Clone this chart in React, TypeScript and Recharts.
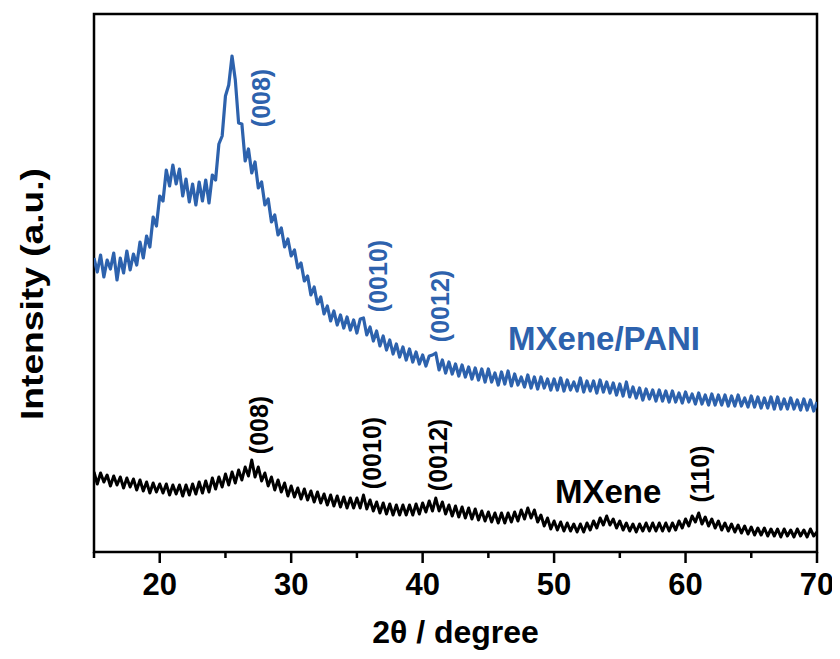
import { LineChart, Line, XAxis, YAxis, ReferenceArea, ReferenceDot, Label } from 'recharts'

// 2θ sampling: 15° to 70° in 0.25° steps (221 points)
const START_ANGLE = 15
const STEP = 0.25

// MXene/PANI intensity (a.u.), 4 points per degree
const paniIntensity = [
  290, 276, 293, 271, 288, 279, 295, 268, 290, 275, 297, 278, 294, 283, 306, 290,
  312, 301, 331, 322, 352, 347, 378, 362, 383, 364, 379, 352, 369, 346, 364, 343,
  366, 347, 368, 345, 373, 368, 404, 412, 452, 463, 492, 468, 425, 424, 387, 399,
  375, 386, 360, 366, 343, 349, 326, 333, 313, 320, 301, 309, 292, 298, 280, 285,
  267, 272, 253, 261, 244, 251, 234, 242, 227, 237, 223, 233, 220, 231, 218, 228,
  215, 229, 230, 213, 221, 207, 217, 202, 212, 198, 208, 194, 204, 191, 201, 188,
  199, 186, 196, 184, 193, 182, 192, 193, 195, 178, 188, 175, 186, 174, 184, 172,
  183, 171, 181, 169, 180, 168, 179, 166, 179, 166, 175, 163, 176, 164, 177, 162,
  174, 163, 171, 161, 173, 160, 171, 159, 171, 160, 169, 158, 169, 158, 170, 157,
  168, 158, 166, 157, 170, 156, 167, 157, 167, 155, 168, 156, 166, 155, 165, 153,
  164, 152, 166, 151, 161, 150, 160, 148, 159, 149, 158, 147, 158, 147, 157, 146,
  157, 146, 155, 145, 156, 146, 154, 144, 155, 144, 153, 143, 154, 143, 153, 143,
  153, 142, 152, 142, 153, 142, 150, 141, 152, 141, 151, 140, 150, 140, 151, 139,
  151, 139, 149, 139, 150, 139, 148, 138, 149, 138, 148, 137, 146,
]

// MXene intensity (a.u.)
const mxeneIntensity = [
  76, 64, 75, 66, 73, 62, 72, 63, 71, 60, 70, 61, 69, 58, 68, 57,
  66, 55, 65, 56, 64, 55, 64, 53, 63, 54, 63, 52, 63, 53, 64, 54,
  66, 55, 67, 56, 70, 59, 71, 61, 74, 63, 76, 65, 78, 68, 81, 72,
  88, 71, 81, 67, 75, 62, 71, 58, 68, 56, 65, 52, 62, 51, 60, 49,
  59, 48, 57, 46, 56, 45, 54, 43, 53, 42, 52, 41, 51, 40, 50, 40,
  50, 40, 53, 39, 48, 37, 46, 35, 45, 34, 44, 33, 43, 33, 43, 33,
  43, 33, 44, 34, 45, 36, 47, 37, 50, 37, 46, 34, 43, 32, 42, 31,
  41, 30, 40, 29, 39, 28, 37, 27, 36, 26, 35, 25, 35, 25, 35, 26,
  36, 27, 38, 29, 40, 30, 38, 26, 33, 22, 30, 19, 27, 18, 26, 17,
  25, 17, 24, 16, 24, 16, 25, 18, 27, 20, 30, 23, 32, 23, 29, 20,
  27, 18, 25, 17, 24, 16, 24, 17, 25, 17, 25, 17, 25, 17, 25, 17,
  25, 18, 27, 20, 29, 22, 32, 26, 35, 24, 31, 22, 29, 20, 27, 18,
  25, 17, 24, 16, 23, 15, 22, 14, 21, 13, 20, 13, 20, 12, 19, 12,
  19, 11, 19, 12, 18, 11, 19, 12, 18, 11, 19, 12, 16,
]

const xTicks = [15, 20, 25, 30, 35, 40, 45, 50, 55, 60, 65, 70]

// reflection labels: [2θ, intensity, text]
const paniPeaks: [number, number, string][] = [
  [27.7, 450, '(008)'],
  [36.6, 272, '(0010)'],
  [41.32, 242, '(0012)'],
]
const mxenePeaks: [number, number, string][] = [
  [27.55, 123, '(008)'],
  [36.15, 95, '(0010)'],
  [41.17, 93, '(0012)'],
  [61.1, 74, '(110)'],
]

const BLUE = '#2d62ad'
const FONT = '"Liberation Sans", Arial, sans-serif'

const chartData = paniIntensity.map((v, i) => ({
  angle: START_ANGLE + i * STEP,
  pani: v,
  mxene: mxeneIntensity[i],
}))

function XTick({ x, y, payload }: any) {
  const v = payload.value
  const major = v % 10 === 0
  return (
    <g>
      <line x1={x} x2={x} y1={y} y2={y + (major ? 11 : 6)} stroke="#000" strokeWidth={2.5} />
      {major && (
        <text x={x} y={y + 43} textAnchor="middle" fontSize={31} fontWeight="bold" fontFamily={FONT} fill="#000">
          {v}
        </text>
      )}
    </g>
  )
}

function PeakText({ viewBox, text, color }: any) {
  const cx = viewBox.x + (viewBox.width || 0) / 2
  const cy = viewBox.y + (viewBox.height || 0) / 2
  return (
    <text
      x={cx}
      y={cy}
      transform={`rotate(-90 ${cx} ${cy})`}
      textAnchor="middle"
      dominantBaseline="central"
      fontSize={25}
      fontWeight="bold"
      fontFamily={FONT}
      fill={color}
    >
      {text}
    </text>
  )
}

function SeriesText({ viewBox, text, color }: any) {
  return (
    <text x={viewBox.x} y={viewBox.y} fontSize={33} fontWeight="bold" fontFamily={FONT} fill={color}>
      {text}
    </text>
  )
}

export default function App() {
  return (
    <div style={{ width: 832, height: 651, background: '#fff' }}>
      <LineChart width={832} height={651} data={chartData} margin={{ top: 6, right: 23, bottom: 7, left: 0 }}>
        <XAxis
          dataKey="angle"
          type="number"
          domain={[15, 70]}
          ticks={xTicks}
          allowDataOverflow
          axisLine={false}
          tickLine={false}
          tickSize={0}
          tickMargin={0}
          height={100}
          tick={<XTick />}
        >
          <Label
            content={({ viewBox }: any) => (
              <text
                x={viewBox.x + viewBox.width / 2}
                y={viewBox.y + 91}
                textAnchor="middle"
                fontSize={32}
                fontWeight="bold"
                fontFamily={FONT}
                fill="#000"
              >
                2θ / degree
              </text>
            )}
          />
        </XAxis>
        <YAxis
          type="number"
          domain={[-4, 534]}
          allowDataOverflow
          width={86}
          tick={false}
          tickLine={false}
          axisLine={false}
        >
          <Label
            content={() => {
              const x = 35
              const y = 286
              return (
                <text
                  x={x}
                  y={y}
                  transform={`rotate(-90 ${x} ${y})`}
                  textAnchor="middle"
                  fontSize={32}
                  fontWeight="bold"
                  fontFamily={FONT}
                  textLength={252}
                  lengthAdjust="spacingAndGlyphs"
                  fill="#000"
                >
                  Intensity (a.u.)
                </text>
              )
            }}
          />
        </YAxis>
        <Line type="linear" dataKey="mxene" stroke="#000" strokeWidth={3} strokeLinejoin="round" dot={false} isAnimationActive={false} />
        <Line type="linear" dataKey="pani" stroke={BLUE} strokeWidth={3.2} strokeLinejoin="round" dot={false} isAnimationActive={false} />
        {paniPeaks.map(([x, y, t]) => (
          <ReferenceDot key={'p' + t} x={x} y={y} r={0} fill="none" stroke="none" label={<PeakText text={t} color={BLUE} />} />
        ))}
        {mxenePeaks.map(([x, y, t]) => (
          <ReferenceDot key={'m' + t} x={x} y={y} r={0} fill="none" stroke="none" label={<PeakText text={t} color="#000" />} />
        ))}
        <ReferenceDot x={46.5} y={198} r={0} fill="none" stroke="none" label={<SeriesText text="MXene/PANI" color={BLUE} />} />
        <ReferenceDot x={50.07} y={45} r={0} fill="none" stroke="none" label={<SeriesText text="MXene" color="#000" />} />
        <ReferenceArea x1={15} x2={70} y1={-4} y2={534} fill="none" stroke="#000" strokeWidth={2.5} ifOverflow="visible" />
      </LineChart>
    </div>
  )
}
